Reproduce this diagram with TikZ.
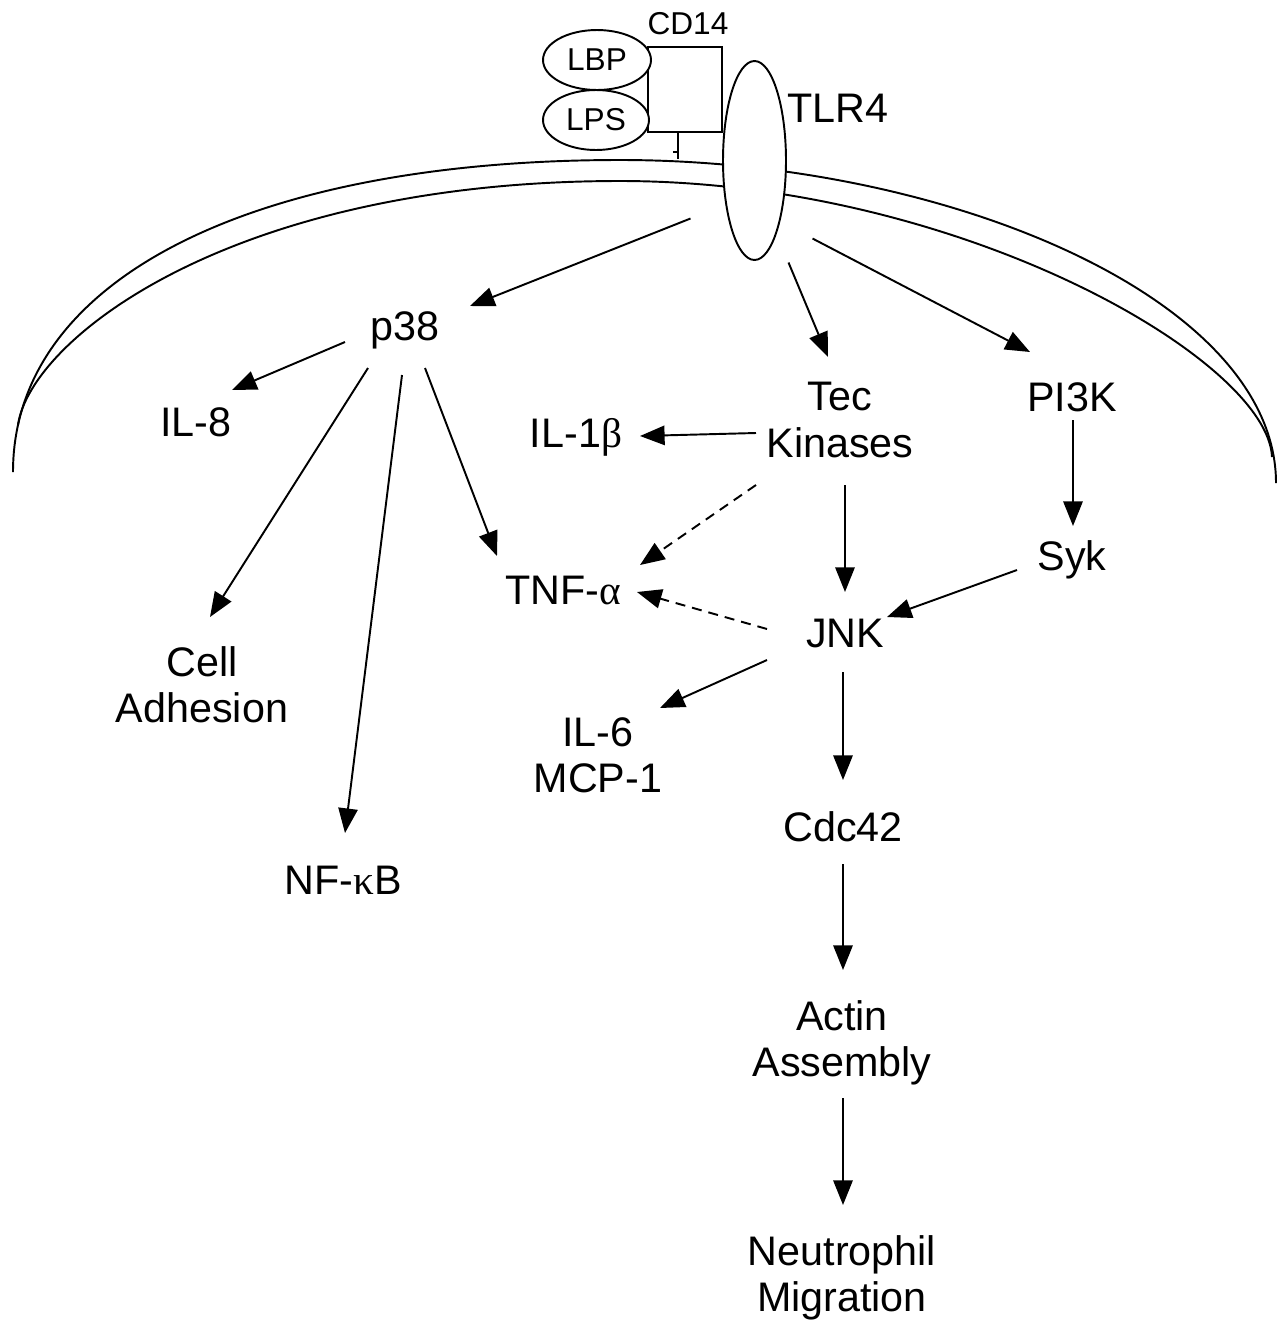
\documentclass[tikz,border=0pt]{standalone}
\usepackage{fontspec}
\setmainfont{Liberation Sans}
\newfontfamily\grk{Liberation Serif}
\usetikzlibrary{arrows.meta,shapes.geometric,calc}

\begin{document}
\begin{tikzpicture}[x=0.02cm,y=-0.02cm,line width=1.1pt,
  lbl/.style={font=\fontsize{23.5}{26.2}\selectfont, align=center, inner sep=0pt},
  small/.style={font=\fontsize{18}{20}\selectfont, inner sep=0pt},
  arr/.style={-{Triangle[length=14pt,width=11pt]}},
  darr/.style={arr, dash pattern=on 0.2cm off 0.14cm}]
  \useasboundingbox (0,0) rectangle (1285,1323);

  % membrane
  \draw (13,472) .. controls (13,280) and (250,160) .. (620,160)
        .. controls (950,160) and (1276,300) .. (1276,483);
  \draw (18,425) .. controls (30,340) and (230,181) .. (620,181)
        .. controls (960,181) and (1268,360) .. (1272,457);

  % receptor complex
  \node[draw, fill=white, minimum width=1.48cm, minimum height=1.7cm] (cd14box) at (685,89.5) {};
  \node[small] (cd14) at (688,24) {CD14};
  \node[draw, ellipse, fill=white, minimum width=2.16cm, minimum height=1.2cm, small] (lbp) at (597,60) {LBP};
  \node[draw, ellipse, fill=white, minimum width=2.12cm, minimum height=1.2cm, small] (lps) at (596,120) {LPS};
  \node[draw, ellipse, fill=white, minimum width=1.26cm, minimum height=3.98cm, inner sep=0pt] (tlr4) at (754.5,160.5) {};
  \node[lbl] (tlr4lbl) at (838,108) {TLR4};
  \draw ([shift={(-7,0)}]cd14box.south) -- ++(0,26);
  \draw ([shift={(-12,19)}]cd14box.south) -- ++(5,0);

  % signalling nodes
  \node[lbl] (p38) at (405,330) {p38};
  \node[lbl] (il8) at (196,422) {IL-8};
  \node[lbl] (tec) at (840,420) {Tec\\Kinases};
  \node[lbl] (pi3k) at (1072,397) {PI3K};
  \node[lbl] (il1b) at (576,437) {IL-1{\grk β}};
  \node[lbl] (tnf) at (563,590) {TNF-{\grk α}};
  \node[lbl] (syk) at (1072,560) {Syk};
  \node[lbl] (jnk) at (845,633) {JNK};
  \node[lbl] (cell) at (202,685) {Cell\\Adhesion};
  \node[lbl] (il6) at (598,755) {IL-6\\MCP-1};
  \node[lbl] (nfkb) at (343,880) {NF-{\grk κ}B};
  \node[lbl] (cdc42) at (843,827) {Cdc42};
  \node[lbl] (actin) at (842,1043) {Actin\\Assembly};
  \node[lbl] (neutro) at (842,1278) {Neutrophil\\Migration};

  % connectors
  \draw[arr] ([shift={(-64,58)}]tlr4.center) -- ([shift={(65,-24)}]p38.center);
  \draw[arr] ([shift={(34,102)}]tlr4.center) -- ([shift={(-12,-63)}]tec.center);
  \draw[arr] ([shift={(58,78)}]tlr4.center) -- ([shift={(-42,-45)}]pi3k.center);
  \draw[arr] ([shift={(-60,12)}]p38.center) -- ([shift={(36,-32)}]il8.center);
  \draw[arr] ([shift={(-37,38)}]p38.center) -- ([shift={(8,-68)}]cell.center);
  \draw[arr] ([shift={(-3,45)}]p38.center) -- ([shift={(2,-47)}]nfkb.center);
  \draw[arr] ([shift={(20,38)}]p38.center) -- ([shift={(-66,-34)}]tnf.center);
  \draw[arr] ([shift={(-84,13)}]tec.center) -- ([shift={(64,-1)}]il1b.center);
  \draw[darr] ([shift={(-84,65)}]tec.center) -- ([shift={(77,-25)}]tnf.center);
  \draw[arr] ([shift={(5,65)}]tec.center) -- ([shift={(0,-41)}]jnk.center);
  \draw[arr] ([shift={(1,23)}]pi3k.center) -- ([shift={(1,-34)}]syk.center);
  \draw[arr] ([shift={(-55,10)}]syk.center) -- ([shift={(42,-16)}]jnk.center);
  \draw[darr] ([shift={(-78,-4)}]jnk.center) -- ([shift={(74,2)}]tnf.center);
  \draw[arr] ([shift={(-78,27)}]jnk.center) -- ([shift={(62,-47)}]il6.center);
  \draw[arr] ([shift={(-2,39)}]jnk.center) -- ([shift={(0,-47)}]cdc42.center);
  \draw[arr] ([shift={(0,37)}]cdc42.center) -- ([shift={(1,-73)}]actin.center);
  \draw[arr] ([shift={(1,55)}]actin.center) -- ([shift={(1,-73)}]neutro.center);
\end{tikzpicture}
\end{document}
